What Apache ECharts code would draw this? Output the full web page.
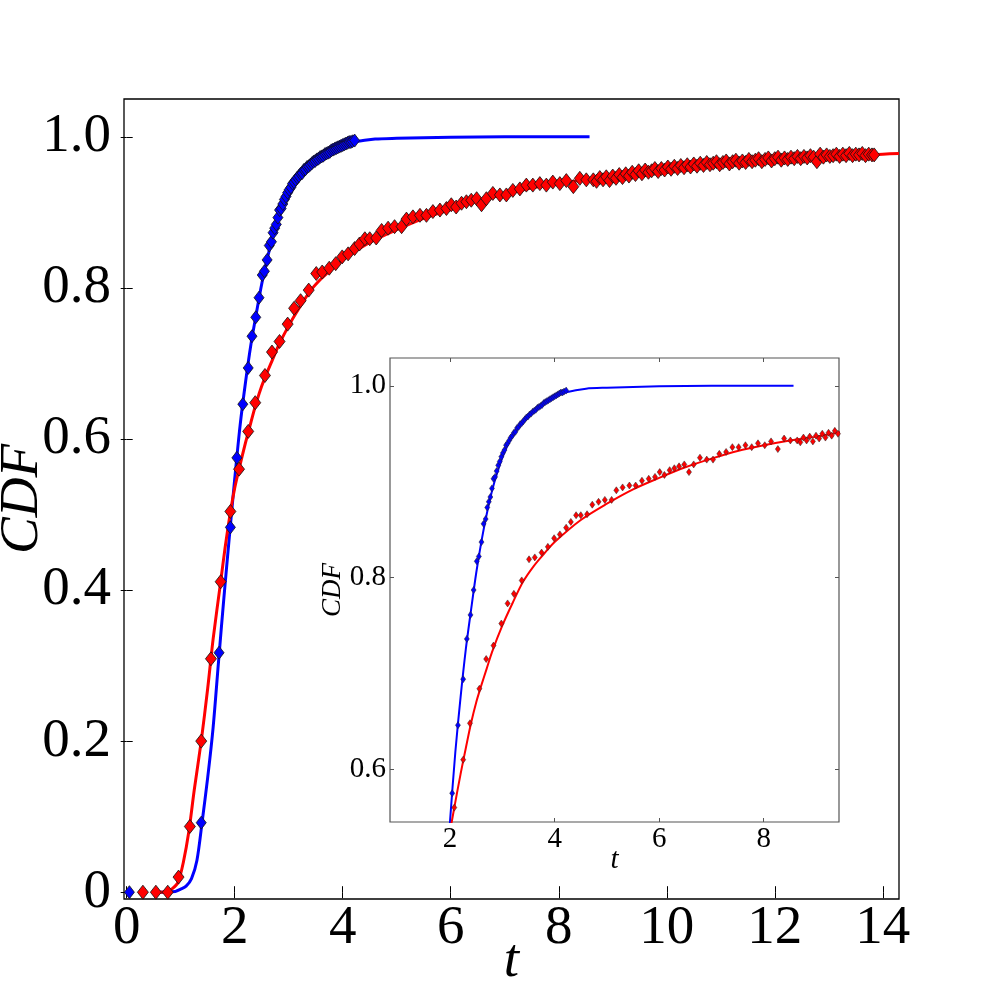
<!DOCTYPE html>
<html>
<head>
<meta charset="utf-8">
<script src="https://cdn.jsdelivr.net/npm/echarts@6/dist/echarts.min.js"></script>
<style>html,body{margin:0;padding:0;background:#fff}#c{width:1000px;height:1000px}</style>
</head>
<body>
<div id="c"></div>
<script>
// ---- data ----
var xTicks = [0, 2, 4, 6, 8, 10, 12, 14];
var yTicks = [0, 0.2, 0.4, 0.6, 0.8, 1.0];
var insetXTicks = [2, 4, 6, 8];
var insetYTicks = [0.6, 0.8, 1.0];

var blueFit = [[0.6,0],[0.9,0.001],[1.0,0.004],[1.1,0.008],[1.2,0.018],[1.3,0.042],[1.4,0.095],[1.5,0.152],[1.6,0.218],[1.7,0.305],[1.8,0.39],[1.9,0.47],[2.0,0.547],[2.1,0.618],[2.2,0.675],[2.3,0.725],[2.4,0.766],[2.5,0.805],[2.6,0.838],[2.7,0.866],[2.8,0.89],[2.9,0.909],[3.0,0.925],[3.1,0.938],[3.2,0.948],[3.4,0.963],[3.6,0.974],[3.8,0.983],[4.0,0.989],[4.2,0.993],[4.6,0.997],[5.0,0.998],[6.0,0.9995],[7.0,1.0],[8.57,1.0]];

var redFit = [[0.6,0],[0.75,0.001],[0.85,0.005],[0.95,0.013],[1.05,0.04],[1.15,0.08],[1.25,0.135],[1.38,0.2],[1.5,0.27],[1.6,0.335],[1.74,0.411],[1.82,0.455],[1.92,0.503],[2.0,0.535],[2.08,0.56],[2.2,0.595],[2.3,0.622],[2.4,0.648],[2.5,0.67],[2.6,0.688],[2.7,0.705],[2.8,0.722],[3.0,0.75],[3.2,0.774],[3.4,0.796],[3.6,0.812],[3.8,0.825],[4.0,0.837],[4.5,0.86],[5.0,0.877],[5.5,0.892],[6.0,0.904],[6.5,0.915],[7.0,0.924],[7.5,0.932],[8.0,0.938],[8.5,0.943],[9.0,0.947],[10.0,0.957],[11.0,0.964],[12.0,0.969],[13.0,0.973],[14.0,0.977],[14.3,0.978]];

var blueObs = [[0.05,0.000],[1.38,0.092],[1.71,0.317],[1.92,0.483],[2.04,0.575],[2.15,0.646],[2.25,0.694],[2.32,0.736],[2.39,0.761],[2.45,0.787],[2.51,0.817],[2.55,0.822],[2.60,0.837],[2.64,0.856],[2.68,0.861],[2.71,0.873],[2.74,0.879],[2.77,0.884],[2.80,0.893],[2.83,0.903],[2.86,0.905],[2.89,0.911],[2.92,0.917],[2.95,0.921],[2.98,0.926],[3.01,0.930],[3.04,0.933],[3.07,0.938],[3.10,0.940],[3.13,0.943],[3.16,0.946],[3.19,0.948],[3.22,0.951],[3.25,0.952],[3.28,0.956],[3.31,0.957],[3.34,0.960],[3.37,0.961],[3.40,0.963],[3.43,0.965],[3.46,0.967],[3.49,0.968],[3.52,0.970],[3.55,0.971],[3.58,0.973],[3.61,0.974],[3.64,0.975],[3.67,0.977],[3.70,0.978],[3.73,0.979],[3.76,0.980],[3.79,0.982],[3.82,0.983],[3.85,0.984],[3.88,0.985],[3.91,0.986],[3.94,0.987],[3.97,0.988],[4.00,0.989],[4.03,0.990],[4.06,0.991],[4.09,0.992],[4.12,0.993],[4.15,0.993],[4.18,0.994],[4.22,0.995]];

var redObs = [[0.30,0],[0.54,0],[0.76,0],[0.96,0.020],[1.17,0.087],[1.38,0.200],[1.56,0.309],[1.74,0.411],[1.92,0.504],[2.08,0.560],[2.25,0.610],[2.38,0.648],[2.56,0.684],[2.69,0.715],[2.83,0.729],[2.98,0.752],[3.10,0.773],[3.22,0.783],[3.37,0.797],[3.51,0.819],[3.62,0.821],[3.75,0.826],[3.87,0.832],[3.99,0.841],[4.10,0.845],[4.22,0.852],[4.31,0.858],[4.41,0.865],[4.50,0.865],[4.62,0.866],[4.72,0.876],[4.84,0.879],[4.96,0.881],[5.09,0.881],[5.18,0.891],[5.30,0.894],[5.43,0.896],[5.55,0.896],[5.67,0.901],[5.80,0.903],[5.92,0.905],[6.01,0.910],[6.10,0.907],[6.20,0.912],[6.29,0.914],[6.38,0.916],[6.48,0.918],[6.57,0.910],[6.66,0.918],[6.78,0.925],[6.91,0.923],[7.03,0.923],[7.15,0.929],[7.28,0.931],[7.40,0.936],[7.52,0.936],[7.65,0.938],[7.77,0.936],[7.89,0.940],[8.02,0.938],[8.14,0.942],[8.27,0.934],[8.39,0.945],[8.51,0.943],[8.64,0.943],
[8.70,0.941],[8.76,0.946],[8.82,0.943],[8.88,0.947],[8.94,0.942],[9.00,0.948],[9.06,0.945],[9.12,0.950],[9.18,0.946],[9.24,0.951],[9.30,0.948],[9.36,0.953],[9.42,0.950],[9.48,0.955],[9.54,0.951],[9.60,0.956],[9.66,0.953],[9.72,0.955],[9.78,0.958],[9.84,0.954],[9.90,0.958],[9.96,0.956],[10.02,0.960],[10.08,0.957],[10.14,0.961],[10.20,0.958],[10.26,0.962],[10.32,0.959],[10.38,0.963],[10.44,0.960],[10.50,0.964],[10.56,0.961],[10.62,0.965],[10.68,0.962],[10.74,0.966],[10.80,0.963],[10.86,0.965],[10.92,0.967],[10.98,0.963],[11.04,0.966],[11.10,0.968],[11.16,0.964],[11.22,0.967],[11.28,0.969],[11.34,0.965],[11.40,0.968],[11.46,0.966],[11.52,0.970],[11.58,0.967],[11.64,0.969],[11.70,0.971],[11.76,0.967],[11.82,0.970],[11.88,0.972],[11.94,0.968],[12.00,0.971],[12.06,0.973],[12.12,0.969],[12.18,0.972],[12.24,0.970],[12.30,0.973],[12.36,0.971],[12.42,0.974],[12.48,0.971],[12.54,0.974],[12.60,0.972],[12.66,0.975],[12.72,0.973],[12.78,0.967],[12.84,0.977],[12.90,0.973],[12.96,0.976],[13.02,0.974],[13.08,0.975],[13.14,0.977],[13.20,0.974],[13.26,0.977],[13.32,0.975],[13.38,0.978],[13.44,0.975],[13.50,0.977],[13.56,0.976],[13.62,0.978],[13.68,0.975],[13.74,0.977],[13.80,0.976],[13.84,0.976]];

// ---- chart ----
var SERIF = '"Liberation Serif", "DejaVu Serif", serif';
var chart = echarts.init(document.getElementById('c'), null, {renderer: 'canvas'});

function fmtY(v) { return Math.abs(v) < 1e-9 ? '0' : v.toFixed(1); }
function fmtX(v) { return String(Math.round(v)); }

function mkAxis(grid, min, max, ticks, opts) {
  return Object.assign({
    type: 'value', gridIndex: grid, min: min, max: max,
    splitLine: {show: false},
    axisLine: {show: false},
    nameMoveOverlap: false,
    axisTick: {show: true, inside: true, length: opts.tickLen, customValues: ticks,
      lineStyle: {color: opts.tickColor, width: 1}},
    axisLabel: {show: opts.labels, customValues: ticks, formatter: opts.fmt || fmtX,
      fontFamily: SERIF, fontSize: opts.fontSize || 12, color: '#000', margin: opts.margin || 4}
  }, opts.extra || {});
}

var option = {
  animation: false,
  backgroundColor: '#fff',
  grid: [
    {left: 124, top: 99, width: 775, height: 800, show: true, borderColor: '#000', borderWidth: 1.3,
      backgroundColor: 'transparent', containLabel: false, outerBoundsMode: 'none'},
    {left: 390, top: 358, width: 449, height: 464, show: true, borderColor: '#555', borderWidth: 1.2,
      backgroundColor: '#fff', containLabel: false, outerBoundsMode: 'none'}
  ],
  xAxis: [
    mkAxis(0, -0.05, 14.3, xTicks, {tickLen: 6, tickColor: '#000', labels: true, fontSize: 55, margin: 2, fmt: fmtX,
      extra: {position: 'bottom', name: 't', nameLocation: 'middle', nameGap: 35,
        nameTextStyle: {fontFamily: SERIF, fontStyle: 'italic', fontSize: 55, color: '#000'}}}),
    mkAxis(0, -0.05, 14.3, xTicks, {tickLen: 6, tickColor: '#000', labels: false, extra: {position: 'top'}}),
    mkAxis(1, 0.85, 9.44, insetXTicks, {tickLen: 4, tickColor: '#555', labels: true, fontSize: 29, margin: 3, fmt: fmtX,
      extra: {position: 'bottom', name: 't', nameLocation: 'middle', nameGap: 24,
        nameTextStyle: {fontFamily: SERIF, fontStyle: 'italic', fontSize: 29, color: '#000'}}}),
    mkAxis(1, 0.85, 9.44, insetXTicks, {tickLen: 4, tickColor: '#555', labels: false, extra: {position: 'top'}})
  ],
  yAxis: [
    mkAxis(0, -0.009, 1.05, yTicks, {tickLen: 6, tickColor: '#000', labels: true, fontSize: 55, margin: 13, fmt: fmtY,
      extra: {position: 'left', name: 'CDF', nameLocation: 'middle', nameGap: 74, nameRotate: 90,
        nameTextStyle: {fontFamily: SERIF, fontStyle: 'italic', fontSize: 55, color: '#000'}}}),
    mkAxis(0, -0.009, 1.05, yTicks, {tickLen: 6, tickColor: '#000', labels: false, extra: {position: 'right'}}),
    mkAxis(1, 0.545, 1.029, insetYTicks, {tickLen: 4, tickColor: '#555', labels: true, fontSize: 29, margin: 4, fmt: fmtY,
      extra: {position: 'left', name: 'CDF', nameLocation: 'middle', nameGap: 44, nameRotate: 90,
        nameTextStyle: {fontFamily: SERIF, fontStyle: 'italic', fontSize: 27, color: '#000'}}}),
    mkAxis(1, 0.545, 1.029, insetYTicks, {tickLen: 4, tickColor: '#555', labels: false, extra: {position: 'right'}})
  ],
  series: [
    {type: 'line', name: 'blue fit', xAxisIndex: 0, yAxisIndex: 0, data: blueFit, showSymbol: false, smooth: 0.3, clip: true,
      lineStyle: {color: '#0000ff', width: 3}, z: 2},
    {type: 'line', name: 'red fit', xAxisIndex: 0, yAxisIndex: 0, data: redFit, showSymbol: false, smooth: 0.3, clip: true,
      lineStyle: {color: '#ff0000', width: 3}, z: 2},
    {type: 'scatter', name: 'blue data', xAxisIndex: 0, yAxisIndex: 0, data: blueObs, symbol: 'diamond', symbolSize: [10, 13], clip: true,
      itemStyle: {color: '#0000ff', borderColor: '#111', borderWidth: 0.8, opacity: 1}, z: 3},
    {type: 'scatter', name: 'red data', xAxisIndex: 0, yAxisIndex: 0, data: redObs, symbol: 'diamond', symbolSize: [11, 14], clip: true,
      itemStyle: {color: '#ff0000', borderColor: '#111', borderWidth: 0.8, opacity: 1}, z: 3},

    {type: 'line', name: 'blue fit inset', xAxisIndex: 2, yAxisIndex: 2, data: blueFit, showSymbol: false, smooth: 0.3, clip: true,
      lineStyle: {color: '#0000ff', width: 2}, z: 4},
    {type: 'line', name: 'red fit inset', xAxisIndex: 2, yAxisIndex: 2, data: redFit, showSymbol: false, smooth: 0.3, clip: true,
      lineStyle: {color: '#ff0000', width: 2}, z: 4},
    {type: 'scatter', name: 'blue data inset', xAxisIndex: 2, yAxisIndex: 2, data: blueObs, symbol: 'diamond', symbolSize: [5, 7], clip: true,
      itemStyle: {color: '#0000ff', borderColor: '#222', borderWidth: 0.5, opacity: 1}, z: 5},
    {type: 'scatter', name: 'red data inset', xAxisIndex: 2, yAxisIndex: 2, data: redObs, symbol: 'diamond', symbolSize: [5, 7], clip: true,
      itemStyle: {color: '#ff0000', borderColor: '#222', borderWidth: 0.5, opacity: 1}, z: 5}
  ]
};
chart.setOption(option);
</script>
</body>
</html>
